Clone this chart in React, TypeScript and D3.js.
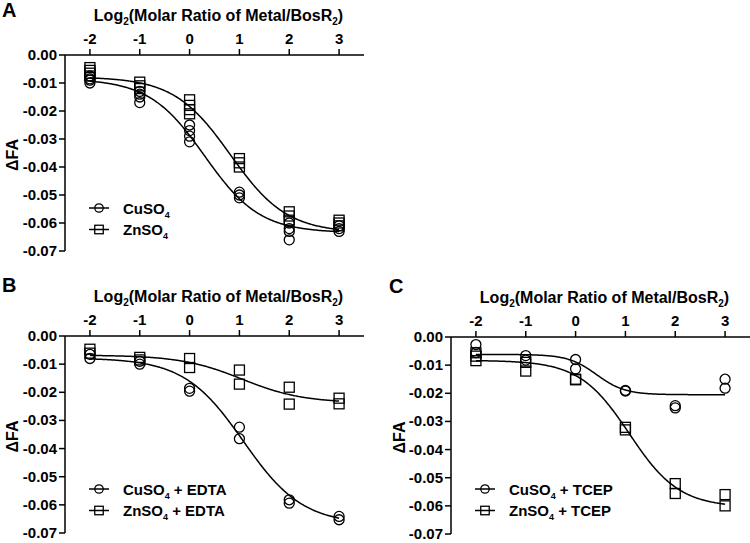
import React from "react";
import * as d3 from "d3";

// ---------- DATA ----------
const X_LEVELS = [-2, -1, 0, 1, 2, 3];
const X_TICKS = [-2, -1, 0, 1, 2, 3];
const Y_TICKS = [0, -0.01, -0.02, -0.03, -0.04, -0.05, -0.06, -0.07];

// Panel A replicates per x level
const A_CU = [
  [-0.0075, -0.0085, -0.009, -0.01],
  [-0.013, -0.014, -0.015, -0.017],
  [-0.025, -0.027, -0.029, -0.031],
  [-0.049, -0.05, -0.051],
  [-0.06, -0.062, -0.063, -0.066],
  [-0.061, -0.062, -0.063],
];
const A_ZN = [
  [-0.0045, -0.0055, -0.0065, -0.0075],
  [-0.0097, -0.011, -0.012],
  [-0.016, -0.018, -0.0195, -0.021],
  [-0.037, -0.0385, -0.04],
  [-0.056, -0.0575, -0.059],
  [-0.059, -0.06, -0.061],
];
// Panel B
const B_CU = [
  [-0.0065, -0.008],
  [-0.009, -0.010],
  [-0.0186, -0.0196],
  [-0.0324, -0.0365],
  [-0.0582, -0.0594],
  [-0.0641, -0.0653],
];
const B_ZN = [
  [-0.0047, -0.0061],
  [-0.0076, -0.0085],
  [-0.008, -0.0112],
  [-0.0121, -0.0171],
  [-0.0182, -0.0242],
  [-0.0221, -0.0241],
];
// Panel C
const C_CU = [
  [-0.0027, -0.0055],
  [-0.0066, -0.0082],
  [-0.008, -0.0113],
  [-0.019, -0.0192],
  [-0.0244, -0.0252],
  [-0.015, -0.0182],
];
const C_ZN = [
  [-0.0056, -0.0068, -0.0084],
  [-0.009, -0.0121],
  [-0.015, -0.0152],
  [-0.0321, -0.033],
  [-0.0521, -0.0556],
  [-0.056, -0.06],
];

// Sigmoid fit parameters: [top, bottom, x50, slope]
const FIT_A_CU = [-0.0085, -0.0635, 0.3, 1.8];
const FIT_A_ZN = [-0.0078, -0.0635, 0.82, 1.766];
const FIT_B_CU = [-0.0078, -0.067, 1.08, 1.68];
const FIT_B_ZN = [-0.0068, -0.0238, 1.05, 1.63];
const FIT_C_CU = [-0.0062, -0.0205, 0.42, 3.5];
const FIT_C_ZN = [-0.0083, -0.0605, 1.08, 2.0];

const SUFFIX_A = ["", ""];
const SUFFIX_B = [" + EDTA", " + EDTA"];
const SUFFIX_C = [" + TCEP", " + TCEP"];

// ---------- LAYOUT ----------
const FONT = "'Liberation Sans', Arial, Helvetica, sans-serif";

type Panel = {
  letter: string;
  x0: number;
  x1: number;
  yTop: number;
  yBot: number;
  letterX: number;
  letterY: number;
  cu: number[][];
  zn: number[][];
  fitCu: number[];
  fitZn: number[];
  suffix: string[];
  legX: number;
  legY: number;
};

const PANELS: Panel[] = [
  { letter: "A", x0: 65, x1: 364, yTop: 55, yBot: 251, letterX: 2, letterY: 17, cu: A_CU, zn: A_ZN, fitCu: FIT_A_CU, fitZn: FIT_A_ZN, suffix: SUFFIX_A, legX: 89, legY: 208 },
  { letter: "B", x0: 65, x1: 364, yTop: 336, yBot: 533, letterX: 2, letterY: 292, cu: B_CU, zn: B_ZN, fitCu: FIT_B_CU, fitZn: FIT_B_ZN, suffix: SUFFIX_B, legX: 89, legY: 489 },
  { letter: "C", x0: 451, x1: 750, yTop: 337, yBot: 534, letterX: 389, letterY: 293, cu: C_CU, zn: C_ZN, fitCu: FIT_C_CU, fitZn: FIT_C_ZN, suffix: SUFFIX_C, legX: 475, legY: 489 },
];

function sigmoid(p: number[], x: number) {
  const [top, bottom, x50, k] = p;
  return bottom + (top - bottom) / (1 + Math.exp(k * (x - x50)));
}

function Circle({ cx, cy, r = 5 }: { cx: number; cy: number; r?: number }) {
  return <circle cx={cx} cy={cy} r={r} fill="none" stroke="#000" strokeWidth={1.3} />;
}
function Square({ cx, cy, s = 10 }: { cx: number; cy: number; s?: number }) {
  return <rect x={cx - s / 2} y={cy - s / 2} width={s} height={s} fill="none" stroke="#000" strokeWidth={1.3} />;
}

function PanelView({ p }: { p: Panel }) {
  const x = d3.scaleLinear().domain([-2.5, 3.5]).range([p.x0, p.x1]);
  const y = d3.scaleLinear().domain([-0.07, 0]).range([p.yBot, p.yTop]);
  const xs = d3.range(-2, 3.0001, 0.02);
  const line = d3.line<number>().x((d) => x(d));
  const pathCu = line.y((d) => y(sigmoid(p.fitCu, d)))(xs) || "";
  const pathZn = line.y((d) => y(sigmoid(p.fitZn, d)))(xs) || "";
  const midX = (p.x0 + p.x1) / 2;
  const midY = (p.yTop + p.yBot) / 2;
  const rows = [
    { kind: "cu", label: "CuSO" },
    { kind: "zn", label: "ZnSO" },
  ];
  return (
    <g fontFamily={FONT} fontWeight="bold">
      <text x={p.letterX} y={p.letterY} fontSize={20}>{p.letter}</text>
      <text x={midX + 4} y={p.yTop - 34} fontSize={16} textAnchor="middle">
        Log<tspan dy={4} fontSize={10}>2</tspan>
        <tspan dy={-4}>(Molar Ratio of Metal/BosR</tspan>
        <tspan dy={4} fontSize={10}>2</tspan>
        <tspan dy={-4}>)</tspan>
      </text>
      {/* top x axis */}
      <line x1={p.x0} x2={p.x1} y1={p.yTop} y2={p.yTop} stroke="#000" strokeWidth={1.5} />
      {X_TICKS.map((t) => (
        <g key={"xt" + t}>
          <line x1={x(t)} x2={x(t)} y1={p.yTop} y2={p.yTop - 6} stroke="#000" strokeWidth={1.5} />
          <text x={x(t)} y={p.yTop - 11} fontSize={15} textAnchor="middle">{t}</text>
        </g>
      ))}
      {/* left y axis */}
      <line x1={p.x0} x2={p.x0} y1={p.yTop} y2={p.yBot} stroke="#000" strokeWidth={1.5} />
      {Y_TICKS.map((t) => (
        <g key={"yt" + t}>
          <line x1={p.x0} x2={p.x0 - 6} y1={y(t)} y2={y(t)} stroke="#000" strokeWidth={1.5} />
          <text x={p.x0 - 8} y={y(t) + 5} fontSize={15} textAnchor="end">{t.toFixed(2)}</text>
        </g>
      ))}
      <text transform={`translate(${p.letterX + 16},${midY + 2}) rotate(-90)`} fontSize={16} textAnchor="middle">ΔFA</text>
      {/* curves */}
      <path d={pathCu} fill="none" stroke="#000" strokeWidth={1.5} />
      <path d={pathZn} fill="none" stroke="#000" strokeWidth={1.5} />
      {/* points */}
      {p.cu.map((reps, i) =>
        reps.map((v, j) => <Circle key={`c${i}-${j}`} cx={x(X_LEVELS[i])} cy={y(v)} />)
      )}
      {p.zn.map((reps, i) =>
        reps.map((v, j) => <Square key={`s${i}-${j}`} cx={x(X_LEVELS[i])} cy={y(v)} />)
      )}
      {/* legend */}
      {rows.map((r, i) => {
        const ly = p.legY + i * 21.5;
        const cx = p.legX + 10;
        return (
          <g key={r.kind}>
            <line x1={p.legX} x2={p.legX + 20} y1={ly} y2={ly} stroke="#000" strokeWidth={1.5} />
            {r.kind === "cu" ? <Circle cx={cx} cy={ly} r={4.2} /> : <Square cx={cx} cy={ly} s={8.5} />}
            <text x={p.legX + 34} y={ly + 5.5} fontSize={15}>
              {r.label}
              <tspan dy={4} fontSize={9}>4</tspan>
              <tspan dy={-4}>{p.suffix[i]}</tspan>
            </text>
          </g>
        );
      })}
    </g>
  );
}

export default function App() {
  return (
    <svg
      width={750}
      height={543}
      style={{ position: "absolute", left: 0, top: 0, background: "#fff" }}
    >
      <rect width={750} height={543} fill="#fff" />
      {PANELS.map((p) => (
        <PanelView key={p.letter} p={p} />
      ))}
    </svg>
  );
}
